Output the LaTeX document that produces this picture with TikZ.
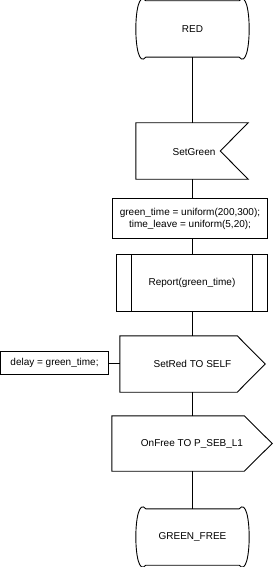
\documentclass[tikz,border=0pt]{standalone}
\usepackage{fontspec}
\setmainfont{Liberation Sans}
\begin{document}
\begin{tikzpicture}[x=1pt,y=-1pt,
  every node/.style={font=\fontsize{10}{12}\selectfont, inner sep=0pt, align=center},
  box/.style={rectangle, minimum width=#1},
  outl/.style={draw=black, line width=0.9pt, line join=miter},
  conn/.style={draw=black, line width=0.9pt}]
\useasboundingbox (0,0) rectangle (273,567);
% nodes
\node[box=113pt, minimum height=56pt] (red) at (192.5,29) {RED};
\node[box=112pt, minimum height=56pt] (setgreen) at (192,151) {};
\node at (194,152) (setgreentxt) {SetGreen};
\node[box=154pt, minimum height=39pt] (task) at (190,218.5) {green\_time = uniform(200,300);\\time\_leave = uniform(5,20);};
\node[box=150pt, minimum height=56pt] (report) at (192,283) {Report(green\_time)};
\node[box=145pt, minimum height=56pt] (setred) at (192.5,364) {SetRed TO SELF};
\node[box=107pt, minimum height=22pt] (delay) at (54.5,363) {delay = green\_time;};
\node[box=160pt, minimum height=55pt] (onfree) at (192,443.5) {OnFree TO P\_SEB\_L1};
\node[box=113pt, minimum height=56pt] (gfree) at (192.5,537) {GREEN\_FREE};
% state shapes
\foreach \n in {red,gfree}{
  \draw[outl] ([xshift=10pt]\n.north west) -- ([xshift=-10pt]\n.north east)
    .. controls ([xshift=3.3pt,yshift=16.3pt]\n.north east) and ([xshift=3.3pt,yshift=-16.3pt]\n.south east) .. ([xshift=-10pt]\n.south east)
    -- ([xshift=10pt]\n.south west)
    .. controls ([xshift=-3.3pt,yshift=-16.3pt]\n.south west) and ([xshift=-3.3pt,yshift=16.3pt]\n.north west) .. cycle;
}
% input signal
\draw[outl] (setgreen.north west) -- (setgreen.north east) -- ([xshift=-28pt]setgreen.east) -- (setgreen.south east) -- (setgreen.south west) -- cycle;
% task boxes
\draw[outl] (task.north west) rectangle (task.south east);
\draw[outl] (delay.north west) rectangle (delay.south east);
% procedure
\draw[outl] (report.north west) rectangle (report.south east);
\draw[outl] ([xshift=15pt]report.north west) -- ([xshift=15pt]report.south west);
\draw[outl] ([xshift=-15pt]report.north east) -- ([xshift=-15pt]report.south east);
% output signals
\foreach \n in {setred,onfree}{
  \draw[outl] (\n.north west) -- ([xshift=-28pt]\n.north east) -- (\n.east) -- ([xshift=-28pt]\n.south east) -- (\n.south west) -- cycle;
}
% connectors
\draw[conn] (red.south) -- (setgreen.north -| red.south);
\draw[conn] (setgreen.south) -- (task.north -| setgreen.south);
\draw[conn] (task.south -| report.north) -- (report.north);
\draw[conn] (report.south) -- (setred.north -| report.south);
\draw[conn] (setred.south -| report.south) -- (onfree.north -| report.south);
\draw[conn] (onfree.south -| report.south) -- (gfree.north -| report.south);
\draw[conn] (delay.east) -- (delay.east -| setred.west);
\end{tikzpicture}
\end{document}
